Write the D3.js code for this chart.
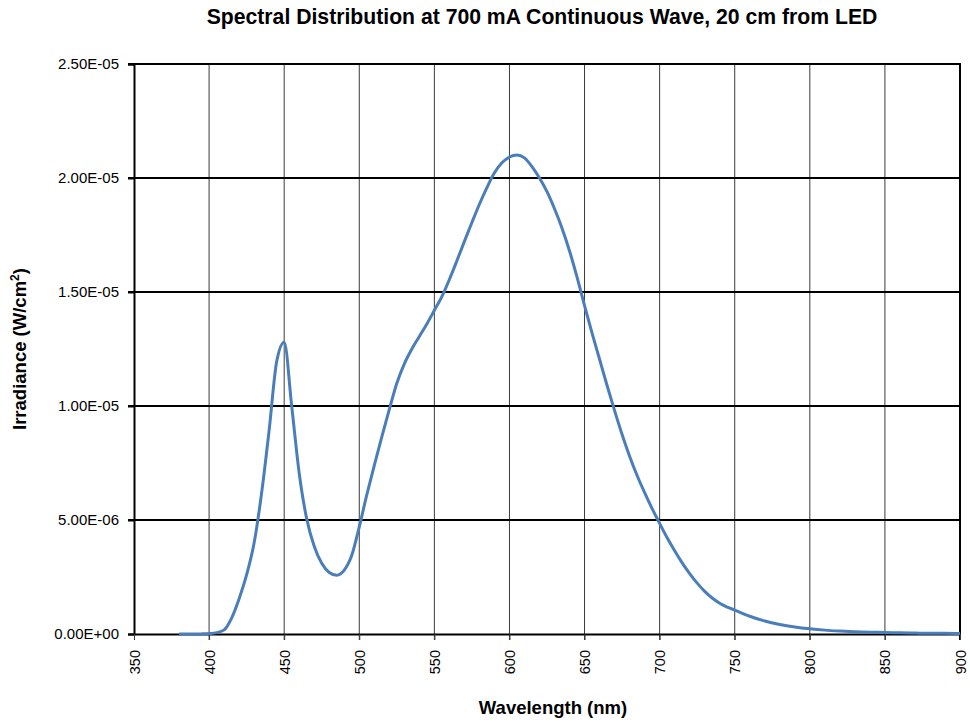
<!DOCTYPE html>
<html>
<head>
<meta charset="utf-8">
<script src="https://cdn.jsdelivr.net/npm/d3@7"></script>
<style>
  body { margin: 0; background: #fff; }
  svg { display: block; font-family: "Liberation Sans", Arial, sans-serif; }
</style>
</head>
<body>
<svg id="chart" width="970" height="723"></svg>
<script>
const titleText = "Spectral Distribution at 700 mA Continuous Wave, 20 cm from LED";
const xLabel = "Wavelength (nm)";
const yLabelMain = "Irradiance (W/cm";
const yLabelSup = "2";
const yLabelEnd = ")";
const xTicks = [350, 400, 450, 500, 550, 600, 650, 700, 750, 800, 850, 900];
const yTicks = [0, 5e-6, 1e-5, 1.5e-5, 2e-5, 2.5e-5];
const yTickLabels = ["0.00E+00", "5.00E-06", "1.00E-05", "1.50E-05", "2.00E-05", "2.50E-05"];

const wavelengths = [380,385,390,395,400,405,410,415,420,425,430,435,440,445,450,455,460,465,470,475,480,485,490,495,500,505,510,515,520,525,530,535,540,545,550,555,560,565,570,575,580,585,590,595,600,605,610,615,620,625,630,635,640,645,650,655,660,665,670,675,680,685,690,695,700,705,710,715,720,725,730,735,740,745,750,760,770,780,790,800,810,820,830,840,850,860,870,880,890,900];
// irradiance in units of 1e-6 W/cm²
const irradianceE6 = [0,0,0,0.005,0.02,0.06,0.18,0.7,1.55,2.6,4.0,6.2,8.95,11.95,12.8,10.0,7.05,5.05,3.85,3.1,2.7,2.58,2.8,3.45,4.7,6.1,7.4,8.65,9.85,11.0,11.85,12.5,13.05,13.6,14.2,14.8,15.55,16.37,17.22,18.05,18.85,19.58,20.23,20.67,20.92,21.01,20.88,20.5,20.0,19.4,18.65,17.8,16.8,15.65,14.4,13.2,12.05,10.9,9.8,8.75,7.8,6.95,6.2,5.5,4.85,4.22,3.65,3.12,2.65,2.23,1.87,1.58,1.35,1.18,1.05,0.78,0.57,0.42,0.31,0.23,0.17,0.13,0.1,0.08,0.07,0.05,0.04,0.03,0.03,0.02];

const data = wavelengths.map((w, i) => ({ x: w, y: irradianceE6[i] * 1e-6 }));

const svg = d3.select("#chart");
const margin = { left: 134, right: 10, top: 64, bottom: 89 };
const W = 970, H = 723;
const x = d3.scaleLinear().domain([350, 900]).range([margin.left, W - margin.right]);
const y = d3.scaleLinear().domain([0, 2.5e-5]).range([H - margin.bottom, margin.top]);

// vertical gridlines
svg.append("g").selectAll("line").data(xTicks.slice(1, -1)).join("line")
  .attr("x1", d => x(d)).attr("x2", d => x(d))
  .attr("y1", y(2.5e-5)).attr("y2", y(0) + 6)
  .attr("stroke", "#3a3a3a").attr("stroke-width", 1);

// horizontal gridlines
svg.append("g").selectAll("line").data(yTicks.slice(1)).join("line")
  .attr("x1", x(350) - 6).attr("x2", x(900))
  .attr("y1", d => y(d)).attr("y2", d => y(d))
  .attr("stroke", "#000").attr("stroke-width", 2);

// right border
svg.append("line").attr("x1", x(900)).attr("x2", x(900))
  .attr("y1", y(2.5e-5) - 1).attr("y2", y(0) + 6)
  .attr("stroke", "#000").attr("stroke-width", 2);

// left axis
const yAxis = d3.axisLeft(y).tickValues(yTicks).tickFormat((d, i) => yTickLabels[i]).tickSize(6).tickPadding(9);
const gy = svg.append("g").attr("transform", `translate(${x(350)},0)`).call(yAxis);
gy.select(".domain").attr("stroke", "#000").attr("stroke-width", 2);
gy.selectAll(".tick line").attr("stroke", "#000").attr("stroke-width", 2);
gy.selectAll("text").attr("font-size", 15).attr("fill", "#000")
  .attr("font-family", "'Liberation Sans', Arial, sans-serif");

// bottom axis
const xAxis = d3.axisBottom(x).tickValues(xTicks).tickFormat(d3.format("d")).tickSize(6).tickSizeOuter(0);
const gx = svg.append("g").attr("transform", `translate(0,${y(0)})`).call(xAxis);
gx.select(".domain").attr("stroke", "#000").attr("stroke-width", 2);
gx.selectAll(".tick line").attr("stroke", "#3a3a3a").attr("stroke-width", 1);
gx.selectAll("text").attr("font-size", 14.5).attr("fill", "#000")
  .attr("font-family", "'Liberation Sans', Arial, sans-serif")
  .attr("text-anchor", "end")
  .attr("transform", "rotate(-90)")
  .attr("x", -16).attr("y", 0).attr("dy", "0.35em");

// curve
const line = d3.line().x(d => x(d.x)).y(d => y(d.y)).curve(d3.curveMonotoneX);
svg.append("path").datum(data).attr("d", line)
  .attr("fill", "none").attr("stroke", "#4a7ebb").attr("stroke-width", 3)
  .attr("stroke-linejoin", "round");

// title
svg.append("text").attr("x", 542).attr("y", 24).attr("text-anchor", "middle")
  .attr("font-size", 21.2).attr("font-weight", "bold").attr("fill", "#000").text(titleText);

// x label
svg.append("text").attr("x", 553).attr("y", 714).attr("text-anchor", "middle")
  .attr("font-size", 18.5).attr("font-weight", "bold").attr("fill", "#000").text(xLabel);

// y label
const yl = svg.append("text").attr("transform", `translate(26,349) rotate(-90)`)
  .attr("text-anchor", "middle")
  .attr("font-size", 18.5).attr("font-weight", "bold").attr("fill", "#000");
yl.append("tspan").text(yLabelMain);
yl.append("tspan").attr("font-size", 12).attr("dy", -7).text(yLabelSup);
yl.append("tspan").attr("dy", 7).text(yLabelEnd);
</script>
</body>
</html>
